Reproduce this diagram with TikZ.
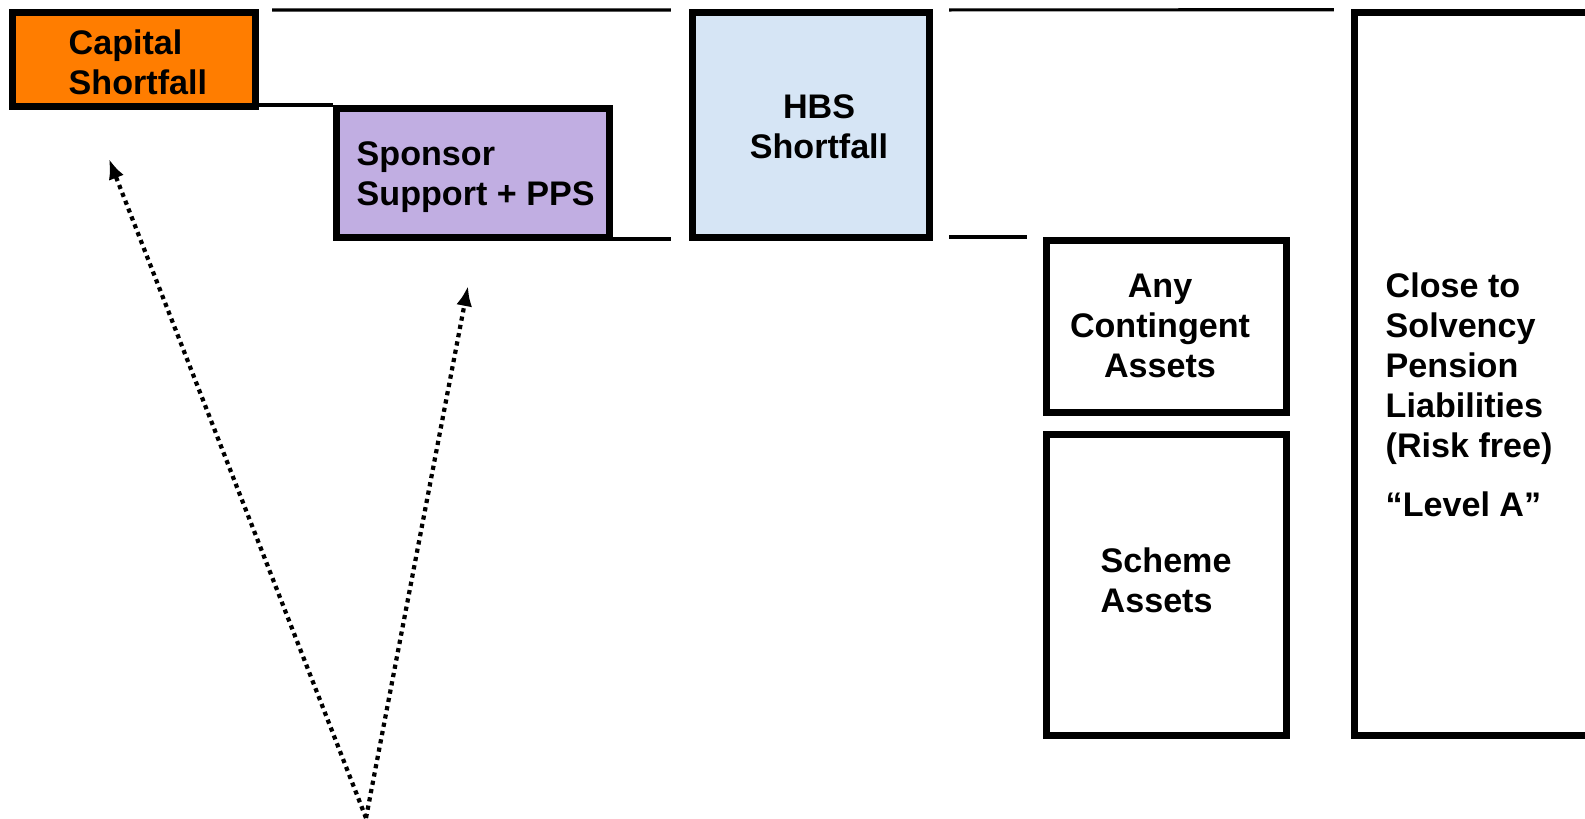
\documentclass[tikz,border=0pt]{standalone}
\usepackage{fontspec}
\setmainfont{Liberation Sans}
\usetikzlibrary{arrows.meta}
\definecolor{caporange}{RGB}{255,125,0}
\definecolor{sponlilac}{RGB}{193,174,226}
\definecolor{hbsblue}{RGB}{214,229,245}

\begin{document}
\begin{tikzpicture}[x=0.01cm, y=-0.01cm, % one unit is one pixel, y runs down
  block/.style={draw, line width=2pt, inner sep=0pt},
  lbl/.style={inner sep=0pt, font=\fontsize{9.7}{11.4}\selectfont\bfseries},
  level/.style={line width=0.9pt},
  hint/.style={line width=1.2pt, dash pattern=on 1.2pt off 1.2pt, -{Latex[length=0.2cm,width=0.16cm]}}]
\useasboundingbox (0,0) rectangle (1585,818);

% the blocks
\node[block, fill=caporange, minimum width=2.43cm, minimum height=0.94cm] (cap) at (134,59.5) {};
\node[block, fill=sponlilac, minimum width=2.73cm, minimum height=1.29cm] (spon) at (473,173) {};
\node[block, fill=hbsblue, minimum width=2.37cm, minimum height=2.25cm] (hbs) at (811,125) {};
\node[block, minimum width=2.40cm, minimum height=1.72cm] (cont) at (1166.5,326.5) {};
\node[block, minimum width=2.40cm, minimum height=3.01cm] (sch) at (1166.5,585) {};
\node[block, minimum width=2.55cm, minimum height=7.23cm] (liab) at (1482,374) {}; %runs off the page on the right

% texts
\node[lbl, anchor=west, align=left] (captxt) at (68,62) {Capital\\Shortfall};
\node[lbl, anchor=west, align=left] (spontxt) at (356,177) {Sponsor\\Support + PPS};
\node[lbl, align=center] (hbstxt) at (819,127) {HBS\\Shortfall};
\node[lbl, align=center] (conttxt) at (1160,326) {Any\\Contingent\\Assets};
\node[lbl, anchor=west, align=left] (schtxt) at (1100,580) {Scheme\\Assets};
\node[lbl, anchor=west, align=left] (liabtxt) at (1385,395) {Close to\\Solvency\\Pension\\Liabilities\\(Risk free)\\[0.19cm]“Level A”};

% level lines between blocks
\draw[level] ([xshift=0.13cm,yshift=-0.01cm]cap.north east) -- ([xshift=-0.18cm,yshift=-0.01cm]hbs.north west);
\draw[level] ([xshift=0.16cm,yshift=-0.01cm]hbs.north east) -- ([xshift=-0.17cm,yshift=-0.01cm]liab.north west);
\draw[level] (spon.north west -| cap.east) -- (spon.north west);
\draw[level] ([yshift=0.02cm]spon.south east) -- ([xshift=-0.18cm,yshift=0.02cm]spon.south east -| hbs.west);
\draw[level] ([xshift=0.16cm]hbs.east |- cont.north west) -- ([xshift=-0.16cm]cont.north west);

% dotted arrows from below
\coordinate (base) at (366,818);
\coordinate (capaim) at (109,159);
\coordinate (sponaim) at (468,286);
\draw[hint] (base) -- (capaim);
\draw[hint] (base) -- (sponaim);
\end{tikzpicture}
\end{document}
